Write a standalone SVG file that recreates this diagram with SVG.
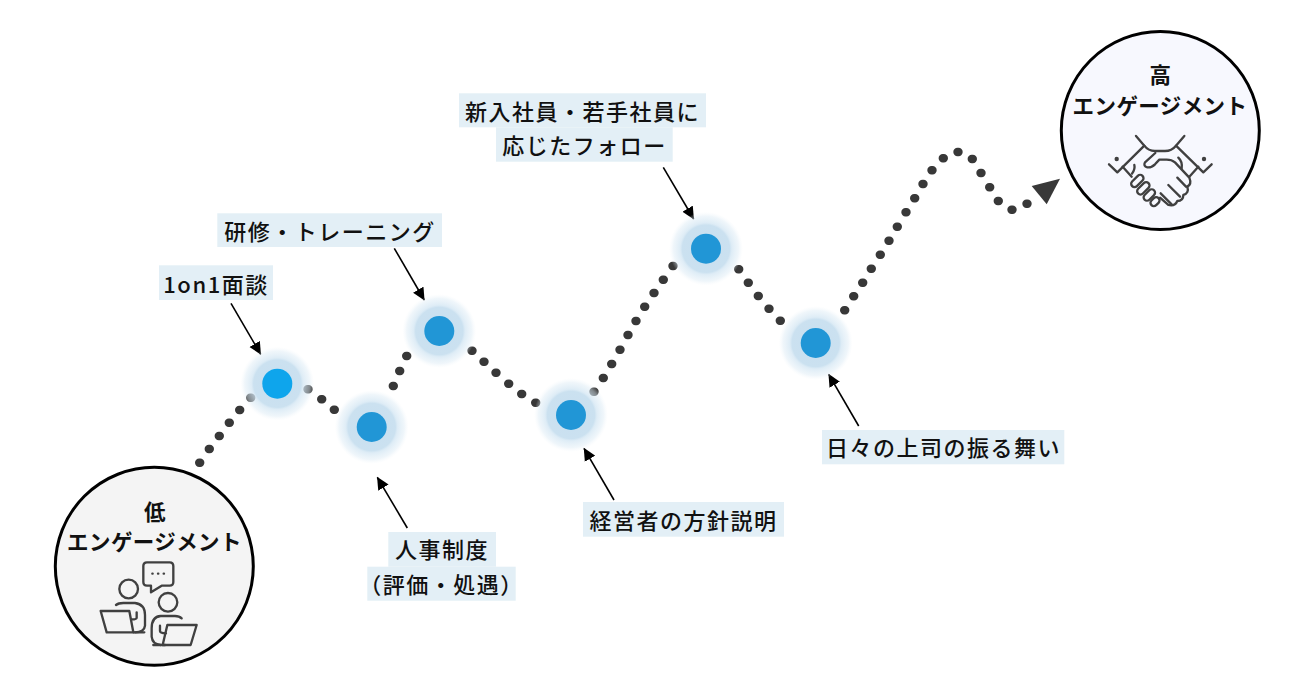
<svg xmlns="http://www.w3.org/2000/svg" width="1302" height="695" viewBox="0 0 1302 695">
<style>
text{font-family:"Noto Sans CJK JP","Noto Sans",sans-serif;fill:#111;text-anchor:middle;dominant-baseline:central}
.lb{font-size:22px;letter-spacing:1.5px;font-weight:500}
.hd{font-size:21.5px;letter-spacing:.4px;font-weight:700}
.bg{fill:#e3eff6}
.dots{fill:none;stroke:#383838;stroke-width:8.4;stroke-linecap:round}
.ptr{stroke:#000;stroke-width:1.6;fill:none;marker-end:url(#tip)}
.big{stroke:#000;stroke-width:3}
.ic{fill:none;stroke:#404040;stroke-width:7;stroke-linecap:round;stroke-linejoin:round}
.halo{fill:url(#hl)}
.core{fill:#2196d6}
</style>
<defs>
<radialGradient id="hl">
<stop offset="0" stop-color="#c8dff0"/>
<stop offset=".64" stop-color="#cbe1f0"/>
<stop offset=".7" stop-color="#d3e6f3" stop-opacity=".75"/>
<stop offset=".88" stop-color="#dcebf5" stop-opacity=".45"/>
<stop offset="1" stop-color="#eef5fa" stop-opacity="0"/>
</radialGradient>
<marker id="tip" markerUnits="userSpaceOnUse" markerWidth="13" markerHeight="13" refX="12" refY="6.5" orient="auto">
<path d="M0 0.5L12.5 6.5L0 12.5Z" fill="#000"/>
</marker>
</defs>
<rect width="1302" height="695" fill="#fff"/>
<g id="connectors">
<path class="dots" d="M199.2 462.7h1M208.8 449h1M218.8 436h1M228.8 422.7h1M239.2 410h1M250.2 397.7h1"/>
<path class="dots" d="M307.5 389.3h1M321.2 399.3h1M333.8 409.7h1"/>
<path class="dots" d="M392.8 386h1M399.2 371h1M406.2 356h1"/>
<path class="dots" d="M471.5 350.7h1M483.5 361.7h1M495.5 372.7h1M508.2 383.7h1M521.2 394h1M535.2 402.7h1"/>
<path class="dots" d="M593.5 391.7h1M602.8 378h1M611.2 364h1M619.5 349.7h1M627.5 335h1M635.5 321h1M644.2 306.7h1M653.5 293h1M662.8 279.7h1M672.5 266h1"/>
<path class="dots" d="M738.2 269.3h1M747.8 282.7h1M757.8 296h1M768.5 308.7h1M779.8 320.7h1"/>
<path class="dots" d="M844.2 310.3h1M853.2 296.3h1M862.2 282.7h1M870.8 268.7h1M879.8 254.7h1M888.5 240.7h1M896.8 226.7h1M905.5 212.3h1M914.2 198.3h1M922.5 184h1M931.5 170.3h1M942.8 158.3h1M957.5 152h1M971.8 159h1M980.5 173h1M989.2 187.3h1M997.8 201h1M1011.5 209.7h1M1026.5 203.7h1"/>
<polygon points="1031.7,186 1060,178.7 1046.7,204.3" fill="#383838"/>
<line class="ptr" x1="231" y1="303.3" x2="260.7" y2="354.3"/>
<line class="ptr" x1="394.3" y1="248.3" x2="424.3" y2="300"/>
<line class="ptr" x1="407.3" y1="528" x2="377.3" y2="477.3"/>
<line class="ptr" x1="614" y1="500" x2="584" y2="448.3"/>
<line class="ptr" x1="663.3" y1="167.3" x2="693.7" y2="219"/>
<line class="ptr" x1="858.7" y1="426" x2="828.7" y2="374.3"/>
</g>
<g id="node-1on1">
<circle class="halo" cx="277.3" cy="383.7" r="37"/><circle cx="277.3" cy="383.7" r="15" fill="#0ea5ec"/>
<rect class="bg" x="159" y="265.3" width="114" height="34.7"/>
<text class="lb" x="216" y="282.5" letter-spacing="2.6">1on1面談</text>
</g>
<g id="node-jinji">
<circle class="halo" cx="371.7" cy="427" r="37"/><circle class="core" cx="371.7" cy="427" r="15"/>
<rect class="bg" x="388.3" y="532" width="107.7" height="34.7"/>
<rect class="bg" x="367.3" y="566.7" width="148.4" height="34"/>
<text class="lb" x="442" y="548">人事制度</text>
<text class="lb" x="441.5" y="582.5">（評価・処遇）</text>
</g>
<g id="node-kenshu">
<circle class="halo" cx="439.3" cy="331" r="37"/><circle class="core" cx="439.3" cy="331" r="15"/>
<rect class="bg" x="217.3" y="213.3" width="224.7" height="33.7"/>
<text class="lb" x="330" y="229.5">研修・トレーニング</text>
</g>
<g id="node-keiei">
<circle class="halo" cx="571" cy="415" r="37"/><circle class="core" cx="571" cy="415" r="15"/>
<rect class="bg" x="583" y="502" width="201" height="34.7"/>
<text class="lb" x="683.5" y="518.5">経営者の方針説明</text>
</g>
<g id="node-shinnyu">
<circle class="halo" cx="706" cy="248.7" r="37"/><circle class="core" cx="706" cy="248.7" r="15"/>
<rect class="bg" x="459" y="93.3" width="247" height="34"/>
<rect class="bg" x="496" y="127.3" width="176.7" height="34.4"/>
<text class="lb" x="582.5" y="109.5">新入社員・若手社員に</text>
<text class="lb" x="584.5" y="144">応じたフォロー</text>
</g>
<g id="node-joshi">
<circle class="halo" cx="815.7" cy="343" r="37"/><circle class="core" cx="815.7" cy="343" r="15"/>
<rect class="bg" x="822" y="430" width="242.3" height="34.3"/>
<text class="lb" x="943.5" y="446">日々の上司の振る舞い</text>
</g>
<g id="node-low">
<circle class="big" cx="154.3" cy="566.3" r="99" fill="#f4f4f4"/>
<text class="hd" x="155" y="510.5">低</text>
<text class="hd" x="154.5" y="540">エンゲージメント</text>
<g transform="translate(90 555) scale(.3333)" class="ic">
<path d="M171 22H239Q250 22 250 33V81Q250 92 239 92H215L183 112V92H171Q160 92 160 81V33Q160 22 171 22Z"/>
<path d="M187 56h1M204 56h1M221 56h1"/>
<circle cx="116" cy="102" r="28"/>
<path d="M78 150Q85 144 100 144H135Q165 148 165 180V212Q163 232 135 232"/>
<path d="M140 172V188Q140 193 125 193"/>
<path d="M32 168H118L130 232H50Z"/>
<path d="M130 232H163"/>
<circle cx="234" cy="142" r="28"/>
<path d="M275 190Q268 183 255 183H212Q185 185 185 220V245Q187 268 212 270"/>
<path d="M210 212V228Q210 235 228 235"/>
<path d="M232 210H320L302 270H218Z"/>
<path d="M190 270H225"/>
</g>
</g>
<g id="node-high">
<circle class="big" cx="1160.3" cy="130.5" r="99" fill="#f7f8fe"/>
<text class="hd" x="1160.5" y="73">高</text>
<text class="hd" x="1160" y="104">エンゲージメント</text>
<g transform="translate(1100 125) scale(.3333)" class="ic">
<path d="M108 33L133 62L52 142L27 118"/>
<path d="M253 33L228 62L310 142L335 118"/>
<path d="M133 62Q145 78 165 78H195Q215 78 228 62"/>
<path d="M166 84L135 112Q129 124 142 127Q155 128 165 118L178 104H200Q215 104 225 112L268 158Q276 178 262 185"/>
<path d="M235 98Q248 110 245 130"/>
<path d="M103 120Q106 132 96 146"/>
<path d="M68 125L95 155"/>
<path d="M295 125L268 155"/>
<g transform="rotate(-45 112 168)"><rect x="90" y="158" width="44" height="20" rx="10"/></g>
<g transform="rotate(-45 130 190)"><rect x="108" y="180" width="44" height="20" rx="10"/></g>
<g transform="rotate(-45 148 210)"><rect x="128" y="200" width="40" height="20" rx="10"/></g>
<g transform="rotate(-45 165 230)"><rect x="150" y="220" width="30" height="20" rx="10"/></g>
<path d="M262 185Q268 205 250 210Q250 228 232 228Q225 245 205 240L180 218"/>
<path d="M232 158L258 185M205 180L240 215M182 205L215 238"/>
</g>
<circle cx="1116.7" cy="159" r="2.2" fill="#404040"/>
<circle cx="1204" cy="159" r="2.2" fill="#404040"/>
</g>
</svg>
